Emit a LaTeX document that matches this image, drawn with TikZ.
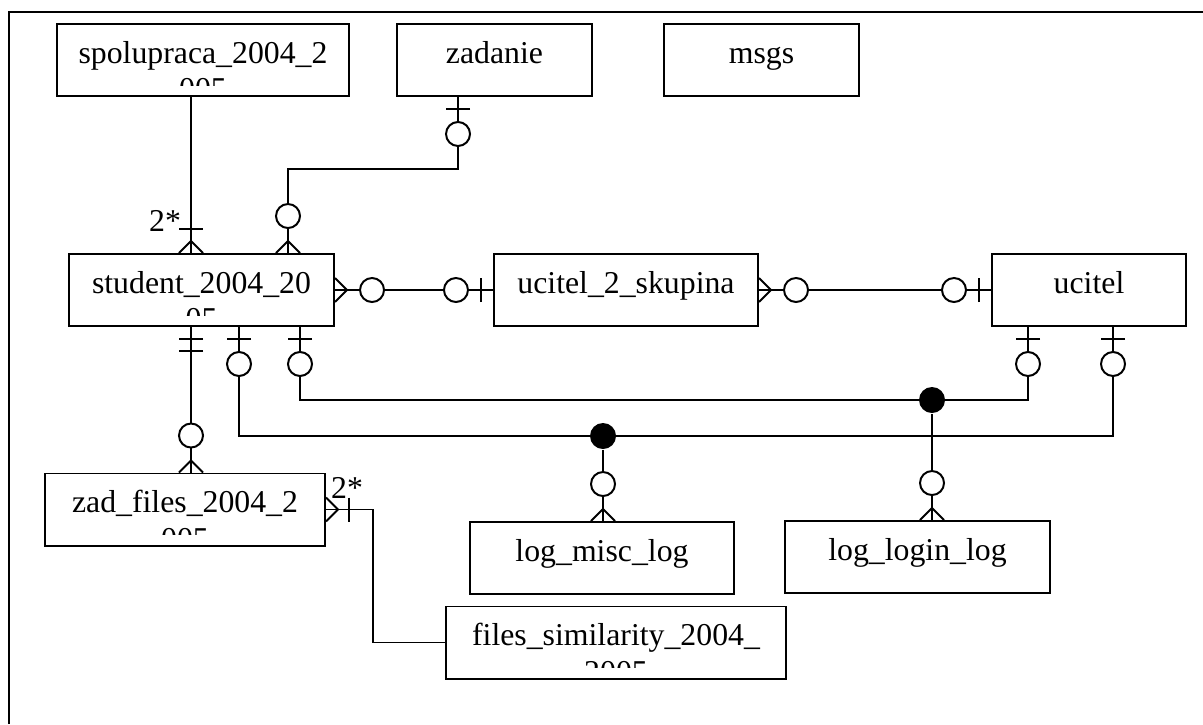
\documentclass[tikz,border=0pt]{standalone}
\usepackage{fontspec}
\setmainfont{Liberation Serif}
\usetikzlibrary{calc}

\begin{document}
\begin{tikzpicture}[x=0.025cm, y=-0.025cm, line width=1.4pt, font=\fontsize{22.6}{27}\selectfont]
			\tikzstyle{entity}=[
			draw,
			rectangle,
			inner sep=0pt,
			minimum height=1.8cm
			]
			\tikzstyle{dot}=[
			circle,
			fill=black,
			inner sep=0pt,
			minimum size=0.65cm
			]
			\tikzset{
			caption/.style 2 args={path picture={
				\clip ([yshift=0.275cm]path picture bounding box.south west) rectangle (path picture bounding box.north east);
				\node[anchor=base] at ([yshift=-0.975cm]path picture bounding box.north) {#1};
				\node[anchor=base] at ([yshift=-1.89cm]path picture bounding box.north) {#2};
			}},
			crow/.pic={\draw (0,-12) -- (12,0) -- (0,12);},
			bar/.pic={\draw (#1,-12) -- (#1,12);},
			ring/.pic={\draw[fill=white] (37,0) circle[radius=0.3cm];}
			}
			\useasboundingbox (0,0) rectangle (1203,724);
			\draw[line width=2.1pt] (9,724) -- (9,12) -- (1203,12);
			% tables
			\node[entity, minimum width=7.3cm, caption={spolupraca\_2004\_2}{005}] (spol) at (203,60) {};
			\node[entity, minimum width=4.875cm, caption={zadanie}{}] (zad) at (494.5,60) {};
			\node[entity, minimum width=4.875cm, caption={msgs}{}] (msgs) at (761.5,60) {};
			\node[entity, minimum width=6.625cm, caption={student\_2004\_20}{05}] (student) at (201.5,290) {};
			\node[entity, minimum width=6.6cm, caption={ucitel\_2\_skupina}{}] (skup) at (626,290) {};
			\node[entity, minimum width=4.85cm, caption={ucitel}{}] (ucitel) at (1089,290) {};
			\node[entity, minimum width=7cm, caption={zad\_files\_2004\_2}{005}] (zfiles) at (185,509.5) {};
			\node[entity, minimum width=6.6cm, caption={log\_misc\_log}{}] (misc) at (602,558) {};
			\node[entity, minimum width=6.625cm, caption={log\_login\_log}{}] (login) at (917.5,557) {};
			\node[entity, minimum width=8.5cm, caption={files\_similarity\_2004\_}{2005}] (fsim) at (616,642.5) {};
			% columns and rows of the links
			\coordinate (c1) at (191,0);
			\coordinate (c2) at (288,0);
			\coordinate (c3) at (458,0);
			\coordinate (c4) at (239,0);
			\coordinate (c5) at (300,0);
			\coordinate (c6) at (1028,0);
			\coordinate (c7) at (1113,0);
			\coordinate (c8) at (603,0);
			\coordinate (c9) at (932,0);
			\coordinate (c10) at (373,0);
			\coordinate (r1) at (0,169);
			\coordinate (r2) at (0,400);
			\coordinate (r3) at (0,436);
			\node[dot] (jmisc) at (c8 |- r3) {};
			\node[dot] (jlogin) at (c9 |- r2) {};
			% links
			\draw (spol.south -| c1) -- (student.north -| c1);
			\draw (zad.south -| c3) |- (r1 -| c2) -- (student.north -| c2);
			\draw (student.east) -- (skup.west);
			\draw (skup.east) -- (ucitel.west);
			\draw (student.south -| c1) -- (zfiles.north -| c1);
			\draw (student.south -| c4) |- (jmisc.center) -| (ucitel.south -| c7);
			\draw (student.south -| c5) |- (jlogin.center) -| (ucitel.south -| c6);
			\draw (jmisc) -- (misc.north -| c8);
			\draw (jlogin) -- (login.north -| c9);
			\draw (zfiles.east) -- (zfiles.east -| c10) |- (fsim.west);
			% ends
			\pic[rotate=90] at (student.north -| c1) {crow};
			\pic[rotate=90] at (student.north -| c1) {bar=24};
			\pic[rotate=90] at (student.north -| c2) {crow};
			\pic[rotate=90] at (student.north -| c2) {ring};
			\pic[rotate=-90] at (zad.south -| c3) {bar=12};
			\pic[rotate=-90] at (zad.south -| c3) {ring};
			\pic at (student.east) {crow};
			\pic at (student.east) {ring};
			\pic[rotate=180] at (skup.west) {bar=12};
			\pic[rotate=180] at (skup.west) {ring};
			\pic at (skup.east) {crow};
			\pic at (skup.east) {ring};
			\pic[rotate=180] at (ucitel.west) {bar=12};
			\pic[rotate=180] at (ucitel.west) {ring};
			\pic[rotate=-90] at (student.south -| c1) {bar=12};
			\pic[rotate=-90] at (student.south -| c1) {bar=24};
			\pic[rotate=90] at (zfiles.north -| c1) {crow};
			\pic[rotate=90] at (zfiles.north -| c1) {ring};
			\pic[rotate=-90] at (student.south -| c4) {bar=12};
			\pic[rotate=-90] at (student.south -| c4) {ring};
			\pic[rotate=-90] at (student.south -| c5) {bar=12};
			\pic[rotate=-90] at (student.south -| c5) {ring};
			\pic[rotate=-90] at (ucitel.south -| c6) {bar=12};
			\pic[rotate=-90] at (ucitel.south -| c6) {ring};
			\pic[rotate=-90] at (ucitel.south -| c7) {bar=12};
			\pic[rotate=-90] at (ucitel.south -| c7) {ring};
			\pic[rotate=90] at (misc.north -| c8) {crow};
			\pic[rotate=90] at (misc.north -| c8) {ring};
			\pic[rotate=90] at (login.north -| c9) {crow};
			\pic[rotate=90] at (login.north -| c9) {ring};
			\pic at (zfiles.east) {crow};
			\pic at (zfiles.east) {bar=23};
			% cardinalities
			\node (spolcard) at (165,221) {2*};
			\node (zfilescard) at (347,488) {2*};
		\end{tikzpicture}
\end{document}
